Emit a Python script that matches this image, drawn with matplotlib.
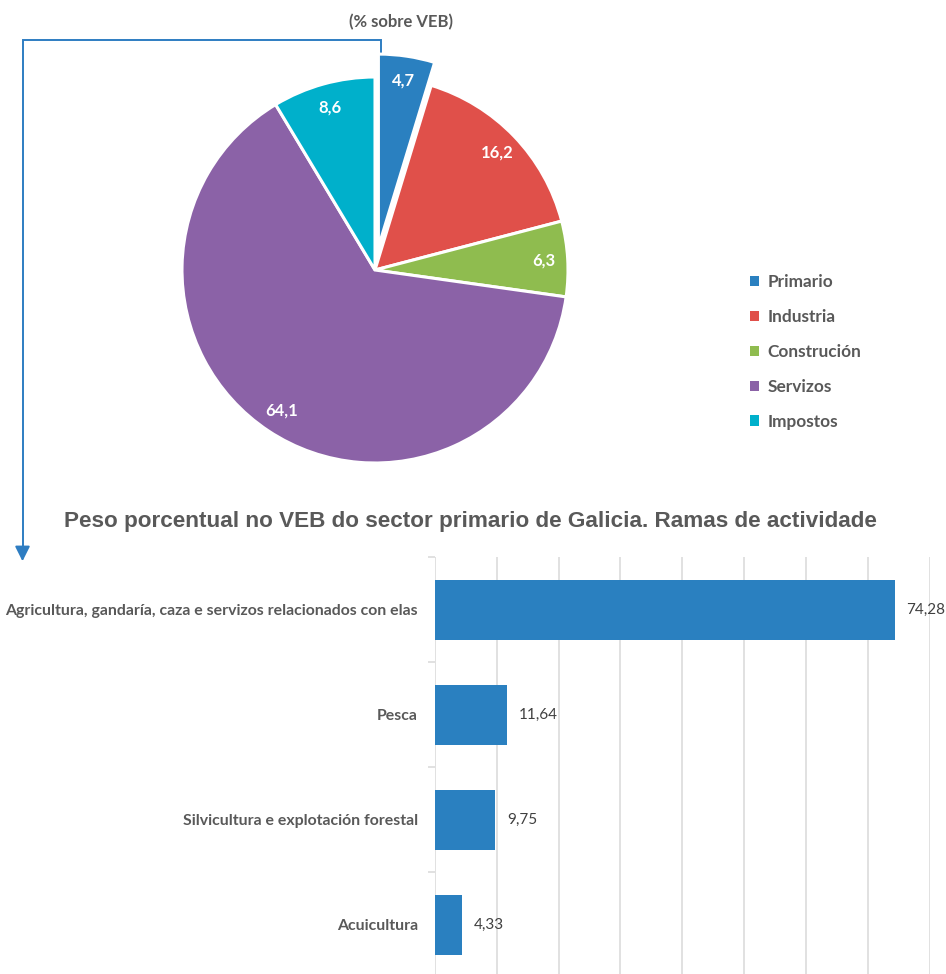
import matplotlib
matplotlib.use("Agg")
import matplotlib.pyplot as plt
import numpy as np

# ---------------- data ----------------
pie_labels = ["Primario", "Industria", "Construción", "Servizos", "Impostos"]
pie_values = [4.7, 16.2, 6.3, 64.1, 8.6]
pie_colors = ["#2A80C0", "#E0504A", "#8FBC4F", "#8B62A7", "#00B0CB"]

bar_categories = ["Agricultura, gandaría, caza e servizos relacionados con elas",
                  "Pesca",
                  "Silvicultura e explotación forestal",
                  "Acuicultura"]
bar_values = [74.28, 11.64, 9.75, 4.33]
bar_color = "#2A80C0"

W, H = 946, 974
fig = plt.figure(figsize=(W / 100, H / 100), dpi=100)

def fx(px):
    return px / W

def fy(py):
    return 1 - py / H

CAL = ["Lato", "DejaVu Sans"]
GRAY = "#595959"

# ---------------- connector overlay ----------------
ov = fig.add_axes([0, 0, 1, 1], zorder=0)
ov.set_xlim(0, W)
ov.set_ylim(H, 0)
ov.axis("off")
lc = "#2E7DC2"
ov.plot([381, 381, 22.5, 22.5], [58, 40, 40, 555], color=lc, lw=1.4, solid_joinstyle="miter")
ov.annotate("", xy=(22.5, 564), xytext=(22.5, 550),
            arrowprops=dict(arrowstyle="-|>,head_length=0.9,head_width=0.45", color=lc, lw=1.4))

# ---------------- pie ----------------
cx, cy, r = 375, 270, 193
axp = fig.add_axes([fx(cx - r), fy(cy + r), (2 * r) / W, (2 * r) / H], zorder=1)
wedges, _ = axp.pie(pie_values, colors=pie_colors, startangle=90, counterclock=False,
                    explode=[0.12, 0, 0, 0, 0], radius=1,
                    wedgeprops=dict(edgecolor="white", linewidth=2.2))
axp.set_xlim(-1, 1)
axp.set_ylim(-1, 1)
axp.set_aspect("auto")
for w, v in zip(wedges, pie_values):
    ang = np.deg2rad((w.theta1 + w.theta2) / 2)
    x0, y0 = w.center
    axp.text(x0 + 0.875 * np.cos(ang), y0 + 0.875 * np.sin(ang),
             f"{v:.1f}".replace(".", ","), ha="center", va="center",
             color="white", fontsize=12, fontweight="bold", family=CAL)

fig.text(fx(401), fy(22), "(% sobre VEB)", ha="center", va="center",
         fontsize=12, fontweight="bold", color=GRAY, family=CAL)

leg = fig.legend(wedges, pie_labels, loc="upper left",
                 bbox_to_anchor=(fx(750), fy(274)), frameon=False,
                 handlelength=0.55, handleheight=0.55, handletextpad=0.45,
                 labelspacing=1.1, borderaxespad=0, borderpad=0,
                 prop=dict(family=CAL, weight="bold", size=12.4))
for t in leg.get_texts():
    t.set_color(GRAY)
for h in leg.legend_handles:
    h.set_edgecolor("none")

# ---------------- bar chart ----------------
fig.text(fx(470), fy(522), "Peso porcentual no VEB do sector primario de Galicia. Ramas de actividade",
         ha="center", va="center", fontsize=16.2, fontweight="bold", color=GRAY,
         family=["Liberation Sans", "DejaVu Sans"])

left, right, top, bottom = 434.7, 930, 557.5, 977.5
axb = fig.add_axes([fx(left), fy(bottom), (right - left) / W, (bottom - top) / H], zorder=1)
ypos = np.arange(len(bar_categories))
axb.barh(ypos, bar_values, height=0.58, color=bar_color, zorder=2)
axb.set_xlim(0, 80)
axb.set_ylim(len(bar_categories) - 0.5, -0.5)
axb.set_xticks(np.arange(0, 81, 10))
axb.xaxis.grid(True, color="#D9D9D9", lw=1.1, zorder=0)
axb.tick_params(axis="x", length=0, labelbottom=False)
for s in axb.spines.values():
    s.set_visible(False)
axb.set_yticks(np.arange(-0.5, len(bar_categories), 1.0))
axb.set_yticklabels([])
axb.tick_params(axis="y", length=5, color="#D9D9D9", width=1.1)
axb.set_yticks(ypos, minor=True)
axb.set_yticklabels(bar_categories, minor=True, family=CAL, fontweight="bold",
                    fontsize=11.4, color=GRAY)
axb.tick_params(axis="y", which="minor", length=0, pad=12)
for y, v in zip(ypos, bar_values):
    axb.annotate(f"{v:.2f}".replace(".", ","), xy=(v, y), xytext=(8.5, 0),
                 textcoords="offset points", ha="left", va="center",
                 fontsize=11, color="#404040", family=CAL)

fig.savefig("out.png", dpi=100)
